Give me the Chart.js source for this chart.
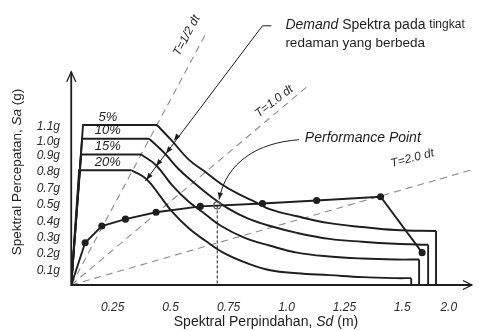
<!DOCTYPE html>
<html>
<head>
<meta charset="utf-8">
<script src="https://cdn.jsdelivr.net/npm/chart.js@4.4.1/dist/chart.umd.min.js"></script>
<style>
  html, body { margin: 0; padding: 0; background: #fff; }
  #wrap { width: 479px; height: 331px; }
</style>
</head>
<body>
<div id="wrap"><canvas id="grafik"></canvas></div>
<script>
// Sumbu (label sumbu pada gambar tidak berskala rata)
const sdTicks = [0.25, 0.5, 0.75, 1.0, 1.25, 1.5, 1.70];
const sdTickLabels = ['0.25', '0.5', '0.75', '1.0', '1.25', '1.5', '2.0'];
const saTicks = [0.103, 0.219, 0.329, 0.446, 0.562, 0.672, 0.789, 0.905, 1.001, 1.104];
const saTickLabels = ['0.1g', '0.2g', '0.3g', '0.4g', '0.5g', '0.7g', '0.8g', '0.9g', '1.0g', '1.1g'];

// Demand spektra untuk tiap redaman
const damping = ['5%', '10%', '15%', '20%'];
const sd05 = [0.071, 0.122, 0.441, 0.505, 0.577, 0.650, 0.718, 0.790, 0.862, 0.930, 1.045, 1.185, 1.326, 1.470, 1.645, 1.645];
const sa05 = [0, 1.118, 1.118, 1.008, 0.878, 0.789, 0.706, 0.638, 0.583, 0.528, 0.480, 0.432, 0.405, 0.384, 0.377, 0];
const sd10 = [0.071, 0.118, 0.407, 0.471, 0.535, 0.607, 0.675, 0.747, 0.832, 0.930, 1.045, 1.185, 1.326, 1.470, 1.611, 1.611];
const sa10 = [0, 1.022, 1.022, 0.926, 0.809, 0.706, 0.617, 0.535, 0.466, 0.412, 0.364, 0.322, 0.302, 0.288, 0.281, 0];
const sd15 = [0.071, 0.114, 0.373, 0.437, 0.505, 0.577, 0.650, 0.718, 0.820, 0.930, 1.045, 1.185, 1.326, 1.470, 1.572, 1.572];
const sa15 = [0, 0.912, 0.912, 0.837, 0.700, 0.583, 0.494, 0.412, 0.329, 0.274, 0.226, 0.199, 0.185, 0.178, 0.178, 0];
const sd20 = [0.071, 0.105, 0.331, 0.395, 0.450, 0.505, 0.577, 0.650, 0.735, 0.832, 0.930, 1.045, 1.185, 1.326, 1.470, 1.538, 1.538];
const sa20 = [0, 0.802, 0.802, 0.741, 0.631, 0.514, 0.398, 0.309, 0.219, 0.151, 0.103, 0.082, 0.069, 0.055, 0.048, 0.048, 0];

// Kurva kapasitas
const capSd = [0.071, 0.131, 0.203, 0.305, 0.437, 0.628, 0.896, 1.130, 1.406, 1.585];
const capSa = [0, 0.295, 0.412, 0.460, 0.508, 0.549, 0.569, 0.590, 0.617, 0.226];

// Performance point
const perfSd = 0.701;
const perfSa = 0.556;

// Garis periode dari titik asal
const periodLabels = ['T=1/2 dt', 'T=1.0 dt', 'T=2.0 dt'];
const periodEndSd = [0.654, 1.088, 1.793];
const periodEndSa = [1.763, 1.385, 0.802];

const originSd = 0.071;
const INK = '#1e1e1e';
const FONT = "'Liberation Sans', Arial, sans-serif";

// Letak anotasi (satuan data)
const notes = {
  dampingSd: 0.229,
  periodAt: [[0.569, 1.742, -62], [0.947, 1.283, -38], [1.543, 0.885, -15]],
  demandText: [0.995, 1.818, 1.687],
  demandLeader: [[0.935, 1.811], [0.896, 1.811], [0.390, 0.726]],
  demandArrows: [[0.514, 1.008], [0.480, 0.919], [0.437, 0.830], [0.395, 0.734]],
  perfText: [1.079, 1.029],
  perfLeader: [[1.054, 1.015], [0.875, 0.995], [0.739, 0.857], [0.709, 0.597]],
  axisTopSa: 1.49,
  axisEndSd: 1.80,
};

function spectrum(sd, sa) {
  const pts = sd.map((x, i) => ({ x, y: sa[i] }));
  const n = pts.length;
  const base = { borderColor: INK, borderWidth: 1.9, pointRadius: 0, showLine: true, order: 2 };
  // naik + plateau lurus, turun melengkung, ekor tegak lurus
  return [
    { ...base, data: pts.slice(0, 3), tension: 0 },
    { ...base, data: pts.slice(2, n - 1), tension: 0.4 },
    { ...base, data: pts.slice(n - 2), tension: 0 },
  ];
}

const periodSets = periodEndSd.map((x, i) => ({
  data: [{ x: originSd, y: 0 }, { x, y: periodEndSa[i] }],
  borderColor: '#8c8c8c', borderWidth: 1.1, borderDash: [7, 5],
  pointRadius: 0, showLine: true, tension: 0, order: 9,
}));

function runs(ctx, parts, x, y, align) {
  let w = 0;
  parts.forEach(p => { ctx.font = p.font; w += ctx.measureText(p.text).width; });
  let cx = align === 'center' ? x - w / 2 : x;
  ctx.textAlign = 'left';
  ctx.textBaseline = 'middle';
  parts.forEach(p => { ctx.font = p.font; ctx.fillText(p.text, cx, y); cx += ctx.measureText(p.text).width; });
}

function head(ctx, tx, ty, fx, fy, len, half) {
  const a = Math.atan2(ty - fy, tx - fx);
  ctx.beginPath();
  ctx.moveTo(tx, ty);
  ctx.lineTo(tx - len * Math.cos(a) + half * Math.sin(a), ty - len * Math.sin(a) - half * Math.cos(a));
  ctx.lineTo(tx - len * Math.cos(a) - half * Math.sin(a), ty - len * Math.sin(a) + half * Math.cos(a));
  ctx.closePath();
  ctx.fill();
}

const annotasi = {
  id: 'annotasi',
  beforeDraw(chart) {
    const ctx = chart.ctx;
    ctx.save();
    ctx.fillStyle = '#fff';
    ctx.fillRect(0, 0, chart.width, chart.height);
    ctx.restore();
  },
  afterDatasetsDraw(chart) {
    const { ctx, scales: { x, y } } = chart;
    const P = (sd, sa) => [x.getPixelForValue(sd), y.getPixelForValue(sa)];
    ctx.save();
    ctx.strokeStyle = INK;
    ctx.fillStyle = INK;

    // sumbu dengan panah terbuka
    const [ox, oy] = P(originSd, 0);
    const [, ty] = P(originSd, notes.axisTopSa);
    const [ex] = P(notes.axisEndSd, 0);
    ctx.lineWidth = 1.8;
    ctx.beginPath();
    ctx.moveTo(ox, ty); ctx.lineTo(ox, oy); ctx.lineTo(ex, oy);
    ctx.stroke();
    ctx.lineWidth = 1.3;
    ctx.beginPath();
    ctx.moveTo(ox - 4.5, ty + 10); ctx.lineTo(ox, ty); ctx.lineTo(ox + 4.5, ty + 10);
    ctx.moveTo(ex - 9, oy - 4.5); ctx.lineTo(ex, oy); ctx.lineTo(ex - 9, oy + 4.5);
    ctx.stroke();

    // label redaman di atas plateau
    const plateaus = [sa05[1], sa10[1], sa15[1], sa20[1]];
    ctx.font = 'italic 13px ' + FONT;
    ctx.textAlign = 'center';
    ctx.textBaseline = 'middle';
    damping.forEach((t, i) => {
      const [lx, ly] = P(notes.dampingSd, plateaus[i]);
      ctx.fillText(t, lx, ly - 8);
    });

    // label garis periode
    ctx.fillStyle = '#2a2a2a';
    ctx.font = 'italic 12px ' + FONT;
    periodLabels.forEach((t, i) => {
      const [sd, sa, rot] = notes.periodAt[i];
      const [lx, ly] = P(sd, sa);
      ctx.save();
      ctx.translate(lx, ly);
      ctx.rotate(rot * Math.PI / 180);
      ctx.fillText(t, 0, 0);
      ctx.restore();
    });
    ctx.fillStyle = INK;

    // penunjuk demand spektra
    ctx.lineWidth = 1;
    const dl = notes.demandLeader.map(p => P(p[0], p[1]));
    ctx.beginPath();
    ctx.moveTo(dl[0][0], dl[0][1]); ctx.lineTo(dl[1][0], dl[1][1]); ctx.lineTo(dl[2][0], dl[2][1]);
    ctx.stroke();
    notes.demandArrows.forEach(p => {
      const [ax, ay] = P(p[0], p[1]);
      head(ctx, ax, ay, dl[1][0], dl[1][1], 7, 2.6);
    });

    // penunjuk performance point
    const pl = notes.perfLeader.map(p => P(p[0], p[1]));
    ctx.beginPath();
    ctx.moveTo(pl[0][0], pl[0][1]);
    ctx.bezierCurveTo(pl[1][0], pl[1][1], pl[2][0], pl[2][1], pl[3][0], pl[3][1]);
    ctx.stroke();
    head(ctx, pl[3][0], pl[3][1], pl[2][0], pl[2][1], 7, 2.6);

    // teks
    const [dx, dy1] = P(notes.demandText[0], notes.demandText[1]);
    const [, dy2] = P(notes.demandText[0], notes.demandText[2]);
    runs(ctx, [
      { text: 'Demand', font: 'italic 14px ' + FONT },
      { text: ' Spektra pada ', font: '14px ' + FONT },
      { text: 'tingkat', font: '12px ' + FONT },
    ], dx, dy1, 'left');
    runs(ctx, [{ text: 'redaman yang berbeda', font: '13.5px ' + FONT }], dx, dy2, 'left');
    const [px, py] = P(notes.perfText[0], notes.perfText[1]);
    runs(ctx, [{ text: 'Performance Point', font: 'italic 14px ' + FONT }], px, py, 'left');

    // judul sumbu
    runs(ctx, [
      { text: 'Spektral Perpindahan, ', font: '14px ' + FONT },
      { text: 'Sd', font: 'italic 14px ' + FONT },
      { text: ' (m)', font: '14px ' + FONT },
    ], 266, 322, 'center');
    ctx.save();
    ctx.translate(17, 172);
    ctx.rotate(-Math.PI / 2);
    runs(ctx, [
      { text: 'Spektral Percepatan, ', font: '13.5px ' + FONT },
      { text: 'Sa', font: 'italic 13.5px ' + FONT },
      { text: ' (g)', font: '13.5px ' + FONT },
    ], 0, 0, 'center');
    ctx.restore();
    ctx.restore();
  },
};

Chart.defaults.font.family = FONT;

new Chart(document.getElementById('grafik'), {
  type: 'scatter',
  data: {
    datasets: [
      ...spectrum(sd05, sa05),
      ...spectrum(sd10, sa10),
      ...spectrum(sd15, sa15),
      ...spectrum(sd20, sa20),
      {
        data: capSd.map((x, i) => ({ x, y: capSa[i] })),
        showLine: true, tension: 0, borderColor: INK, borderWidth: 1.9,
        pointRadius: c => (c.dataIndex === 0 ? 0 : 2.6),
        pointBackgroundColor: INK, pointBorderColor: INK, order: 1,
      },
      {
        data: [{ x: perfSd, y: perfSa }, { x: perfSd, y: 0 }],
        showLine: true, borderColor: INK, borderWidth: 1, borderDash: [3, 2],
        pointRadius: 0, order: 3,
      },
      {
        data: [{ x: perfSd, y: perfSa }],
        pointRadius: 3.5, pointBorderWidth: 1.2, pointBorderColor: '#555',
        pointBackgroundColor: 'rgba(255,255,255,0)', order: 0,
      },
      ...periodSets,
    ],
  },
  options: {
    responsive: true,
    maintainAspectRatio: false,
    animation: false,
    layout: { padding: { top: 5, right: 0, left: 0, bottom: 0 } },
    plugins: { legend: { display: false }, tooltip: { enabled: false } },
    scales: {
      x: {
        type: 'linear', min: 0.07, max: 1.805,
        grid: { display: false }, border: { display: false },
        afterBuildTicks: s => { s.ticks = sdTicks.map(v => ({ value: v })); },
        afterFit: s => { s.height = 46; },
        ticks: {
          autoSkip: false, maxRotation: 0, padding: 7, color: '#2a2a2a',
          font: { size: 12, style: 'italic' },
          callback: (v, i) => sdTickLabels[i],
        },
      },
      y: {
        type: 'linear', min: 0, max: 1.92,
        grid: { display: false }, border: { display: false },
        afterBuildTicks: s => { s.ticks = saTicks.map(v => ({ value: v })); },
        afterFit: s => { s.width = 71; },
        ticks: {
          autoSkip: false, padding: 3, color: '#2a2a2a',
          font: { size: 12, style: 'italic' },
          callback: (v, i) => saTickLabels[i],
        },
      },
    },
  },
  plugins: [annotasi],
});
</script>
</body>
</html>
